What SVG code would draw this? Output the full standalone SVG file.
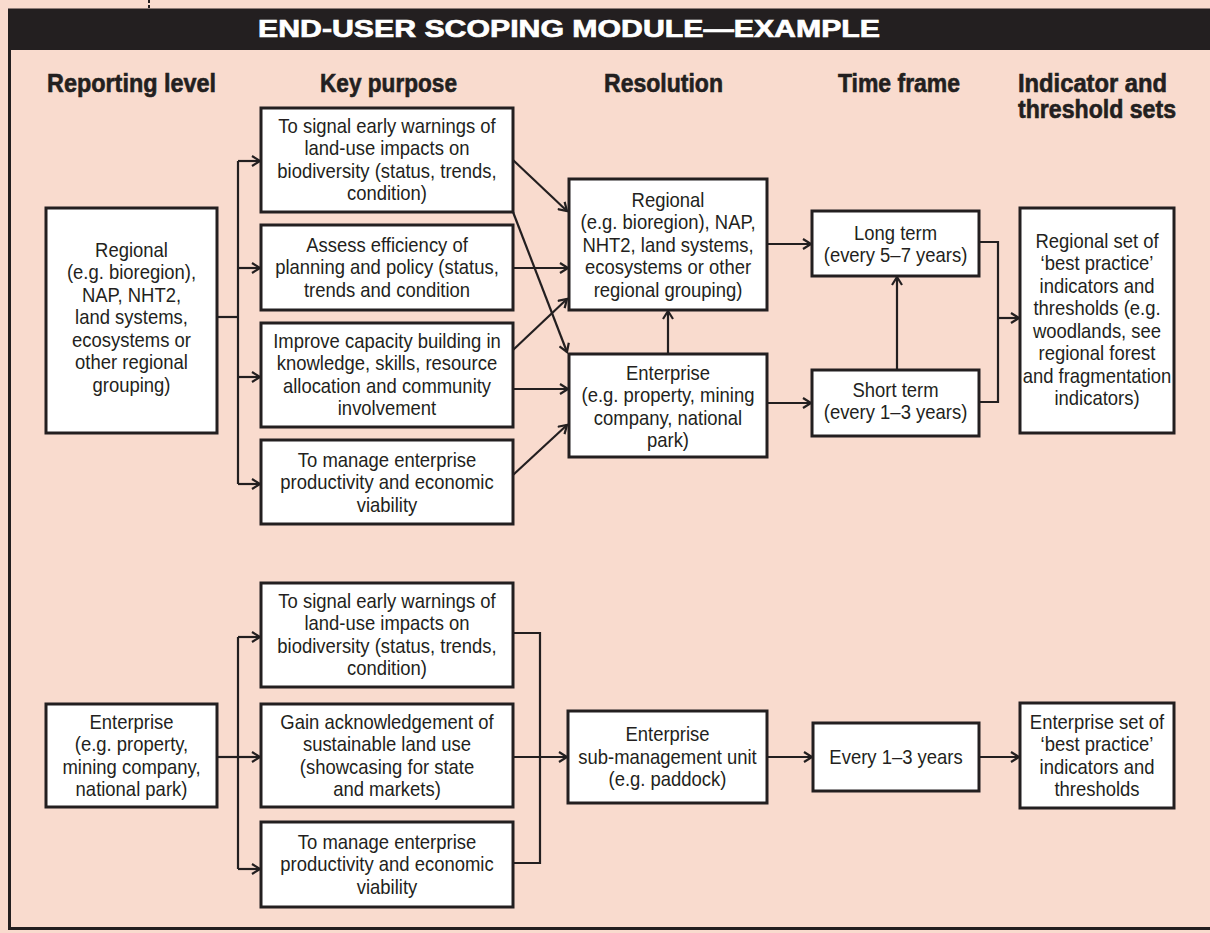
<svg xmlns="http://www.w3.org/2000/svg" width="1210" height="933" viewBox="0 0 1210 933">
<defs>
<marker id="ah" markerUnits="userSpaceOnUse" markerWidth="12" markerHeight="12" refX="9" refY="6" orient="auto" viewBox="0 0 12 12">
<path d="M1,1 L9,6 L1,11" fill="none" stroke="#231F20" stroke-width="2.2"/>
</marker>
<style>
.bx{fill:#FFFFFF;stroke:#231F20;stroke-width:3}
.t{font-family:"Liberation Sans",Arial,sans-serif;font-size:20.5px;fill:#231F20;text-anchor:middle}
.h{font-family:"Liberation Sans",Arial,sans-serif;font-weight:bold;font-size:25px;fill:#231F20;stroke:#231F20;stroke-width:0.6}
.c{fill:none;stroke:#231F20;stroke-width:2.2}
.a{fill:none;stroke:#231F20;stroke-width:2.2;marker-end:url(#ah)}
</style>
</defs>
<rect x="0" y="0" width="1210" height="933" fill="#F9DBCE"/>
<line x1="149" y1="0" x2="149" y2="9" stroke="#231F20" stroke-width="2" stroke-dasharray="3,2"/>
<g id="frame">
<rect x="9.5" y="10" width="1210" height="918.5" fill="none" stroke="#231F20" stroke-width="3"/>
<rect x="8" y="9" width="1202" height="41" fill="#231F20"/>
<text x="258" y="37" font-family="Liberation Sans, Arial, sans-serif" font-weight="bold" font-size="24" fill="#FFFFFF" stroke="#FFFFFF" stroke-width="0.7" textLength="622" lengthAdjust="spacingAndGlyphs">END-USER SCOPING MODULE—EXAMPLE</text>
</g>
<g id="headings">
<text class="h" x="47" y="92" textLength="169" lengthAdjust="spacingAndGlyphs">Reporting level</text>
<text class="h" x="320" y="92" textLength="137" lengthAdjust="spacingAndGlyphs">Key purpose</text>
<text class="h" x="604" y="92" textLength="119" lengthAdjust="spacingAndGlyphs">Resolution</text>
<text class="h" x="838" y="92" textLength="122" lengthAdjust="spacingAndGlyphs">Time frame</text>
<text class="h" x="1018" y="92" textLength="149" lengthAdjust="spacingAndGlyphs">Indicator and</text>
<text class="h" x="1018" y="118" textLength="158" lengthAdjust="spacingAndGlyphs">threshold sets</text>
</g>
<g id="connectors">
<polyline class="c" points="217,317 238,317"/>
<polyline class="c" points="238,161 238,484"/>
<line class="a" x1="238" y1="161" x2="260" y2="161"/>
<line class="a" x1="238" y1="268" x2="260" y2="268"/>
<line class="a" x1="238" y1="377" x2="260" y2="377"/>
<line class="a" x1="238" y1="484" x2="260" y2="484"/>
<line class="a" x1="513" y1="160" x2="567" y2="211"/>
<line class="a" x1="513" y1="212" x2="567" y2="352"/>
<line class="a" x1="513" y1="268" x2="568" y2="268"/>
<line class="a" x1="513" y1="350" x2="567" y2="299"/>
<line class="a" x1="513" y1="389" x2="568" y2="389"/>
<line class="a" x1="513" y1="475" x2="567" y2="425"/>
<line class="a" x1="668" y1="354" x2="668" y2="311"/>
<line class="a" x1="767" y1="244" x2="811" y2="244"/>
<line class="a" x1="767" y1="403" x2="811" y2="403"/>
<line class="a" x1="897" y1="370" x2="897" y2="277"/>
<polyline class="c" points="979,242 998,242 998,402 979,402"/>
<line class="a" x1="998" y1="318" x2="1019" y2="318"/>
<polyline class="c" points="217,757 238,757"/>
<polyline class="c" points="238,637 238,869"/>
<line class="a" x1="238" y1="637" x2="260" y2="637"/>
<line class="a" x1="238" y1="757" x2="260" y2="757"/>
<line class="a" x1="238" y1="869" x2="260" y2="869"/>
<polyline class="c" points="513,633 540,633 540,863 513,863"/>
<line class="a" x1="513" y1="757" x2="567" y2="757"/>
<line class="a" x1="767" y1="757" x2="812" y2="757"/>
<line class="a" x1="979" y1="757" x2="1019" y2="757"/>
</g>
<g id="n-regional-level">
<rect class="bx" x="46" y="208" width="171" height="225"/>
<text class="t" transform="translate(131.5 0) scale(0.9 1)"><tspan x="0" y="257">Regional</tspan><tspan x="0" y="279.5">(e.g. bioregion),</tspan><tspan x="0" y="302">NAP, NHT2,</tspan><tspan x="0" y="324.5">land systems,</tspan><tspan x="0" y="347">ecosystems or</tspan><tspan x="0" y="369.5">other regional</tspan><tspan x="0" y="392">grouping)</tspan></text>
</g>
<g id="n-kp1">
<rect class="bx" x="261" y="108" width="252" height="104"/>
<text class="t" transform="translate(387 0) scale(0.9 1)"><tspan x="0" y="133">To signal early warnings of</tspan><tspan x="0" y="155.5">land-use impacts on</tspan><tspan x="0" y="178">biodiversity (status, trends,</tspan><tspan x="0" y="200.5">condition)</tspan></text>
</g>
<g id="n-kp2">
<rect class="bx" x="261" y="225" width="252" height="85"/>
<text class="t" transform="translate(387 0) scale(0.9 1)"><tspan x="0" y="252">Assess efficiency of</tspan><tspan x="0" y="274.5">planning and policy (status,</tspan><tspan x="0" y="297">trends and condition</tspan></text>
</g>
<g id="n-kp3">
<rect class="bx" x="261" y="323" width="252" height="104"/>
<text class="t" transform="translate(387 0) scale(0.9 1)"><tspan x="0" y="348">Improve capacity building in</tspan><tspan x="0" y="370.5">knowledge, skills, resource</tspan><tspan x="0" y="393">allocation and community</tspan><tspan x="0" y="415.5">involvement</tspan></text>
</g>
<g id="n-kp4">
<rect class="bx" x="261" y="440" width="252" height="84"/>
<text class="t" transform="translate(387 0) scale(0.9 1)"><tspan x="0" y="467">To manage enterprise</tspan><tspan x="0" y="489.5">productivity and economic</tspan><tspan x="0" y="512">viability</tspan></text>
</g>
<g id="n-res-regional">
<rect class="bx" x="569" y="179" width="198" height="131"/>
<text class="t" transform="translate(668 0) scale(0.9 1)"><tspan x="0" y="207">Regional</tspan><tspan x="0" y="229.5">(e.g. bioregion), NAP,</tspan><tspan x="0" y="252">NHT2, land systems,</tspan><tspan x="0" y="274.5">ecosystems or other</tspan><tspan x="0" y="297">regional grouping)</tspan></text>
</g>
<g id="n-res-enterprise">
<rect class="bx" x="569" y="354" width="198" height="103"/>
<text class="t" transform="translate(668 0) scale(0.9 1)"><tspan x="0" y="380">Enterprise</tspan><tspan x="0" y="402.5">(e.g. property, mining</tspan><tspan x="0" y="425">company, national</tspan><tspan x="0" y="447.5">park)</tspan></text>
</g>
<g id="n-long">
<rect class="bx" x="812" y="211" width="167" height="65"/>
<text class="t" transform="translate(895.5 0) scale(0.9 1)"><tspan x="0" y="240">Long term</tspan><tspan x="0" y="262.5">(every 5–7 years)</tspan></text>
</g>
<g id="n-short">
<rect class="bx" x="812" y="370" width="167" height="66"/>
<text class="t" transform="translate(895.5 0) scale(0.9 1)"><tspan x="0" y="397">Short term</tspan><tspan x="0" y="419.5">(every 1–3 years)</tspan></text>
</g>
<g id="n-regional-set">
<rect class="bx" x="1020" y="208" width="154" height="225"/>
<text class="t" transform="translate(1097 0) scale(0.9 1)"><tspan x="0" y="248">Regional set of</tspan><tspan x="0" y="270.5">‘best practice’</tspan><tspan x="0" y="293">indicators and</tspan><tspan x="0" y="315.5">thresholds (e.g.</tspan><tspan x="0" y="338">woodlands, see</tspan><tspan x="0" y="360.5">regional forest</tspan><tspan x="0" y="383">and fragmentation</tspan><tspan x="0" y="405.5">indicators)</tspan></text>
</g>
<g id="n-enterprise-level">
<rect class="bx" x="46" y="704" width="171" height="103"/>
<text class="t" transform="translate(131.5 0) scale(0.9 1)"><tspan x="0" y="729">Enterprise</tspan><tspan x="0" y="751.5">(e.g. property,</tspan><tspan x="0" y="774">mining company,</tspan><tspan x="0" y="796.5">national park)</tspan></text>
</g>
<g id="n-kp5">
<rect class="bx" x="261" y="583" width="252" height="104"/>
<text class="t" transform="translate(387 0) scale(0.9 1)"><tspan x="0" y="608">To signal early warnings of</tspan><tspan x="0" y="630.5">land-use impacts on</tspan><tspan x="0" y="653">biodiversity (status, trends,</tspan><tspan x="0" y="675.5">condition)</tspan></text>
</g>
<g id="n-kp6">
<rect class="bx" x="261" y="704" width="252" height="103"/>
<text class="t" transform="translate(387 0) scale(0.9 1)"><tspan x="0" y="729">Gain acknowledgement of</tspan><tspan x="0" y="751.5">sustainable land use</tspan><tspan x="0" y="774">(showcasing for state</tspan><tspan x="0" y="796.5">and markets)</tspan></text>
</g>
<g id="n-kp7">
<rect class="bx" x="261" y="822" width="252" height="85"/>
<text class="t" transform="translate(387 0) scale(0.9 1)"><tspan x="0" y="849">To manage enterprise</tspan><tspan x="0" y="871.5">productivity and economic</tspan><tspan x="0" y="894">viability</tspan></text>
</g>
<g id="n-sub">
<rect class="bx" x="568" y="711" width="199" height="92"/>
<text class="t" transform="translate(667.5 0) scale(0.9 1)"><tspan x="0" y="741.5">Enterprise</tspan><tspan x="0" y="764">sub-management unit</tspan><tspan x="0" y="786.5">(e.g. paddock)</tspan></text>
</g>
<g id="n-every">
<rect class="bx" x="813" y="723" width="166" height="68"/>
<text class="t" transform="translate(896 0) scale(0.9 1)"><tspan x="0" y="764">Every 1–3 years</tspan></text>
</g>
<g id="n-enterprise-set">
<rect class="bx" x="1020" y="703" width="154" height="105"/>
<text class="t" transform="translate(1097 0) scale(0.9 1)"><tspan x="0" y="729">Enterprise set of</tspan><tspan x="0" y="751.5">‘best practice’</tspan><tspan x="0" y="774">indicators and</tspan><tspan x="0" y="796.5">thresholds</tspan></text>
</g>
</svg>
